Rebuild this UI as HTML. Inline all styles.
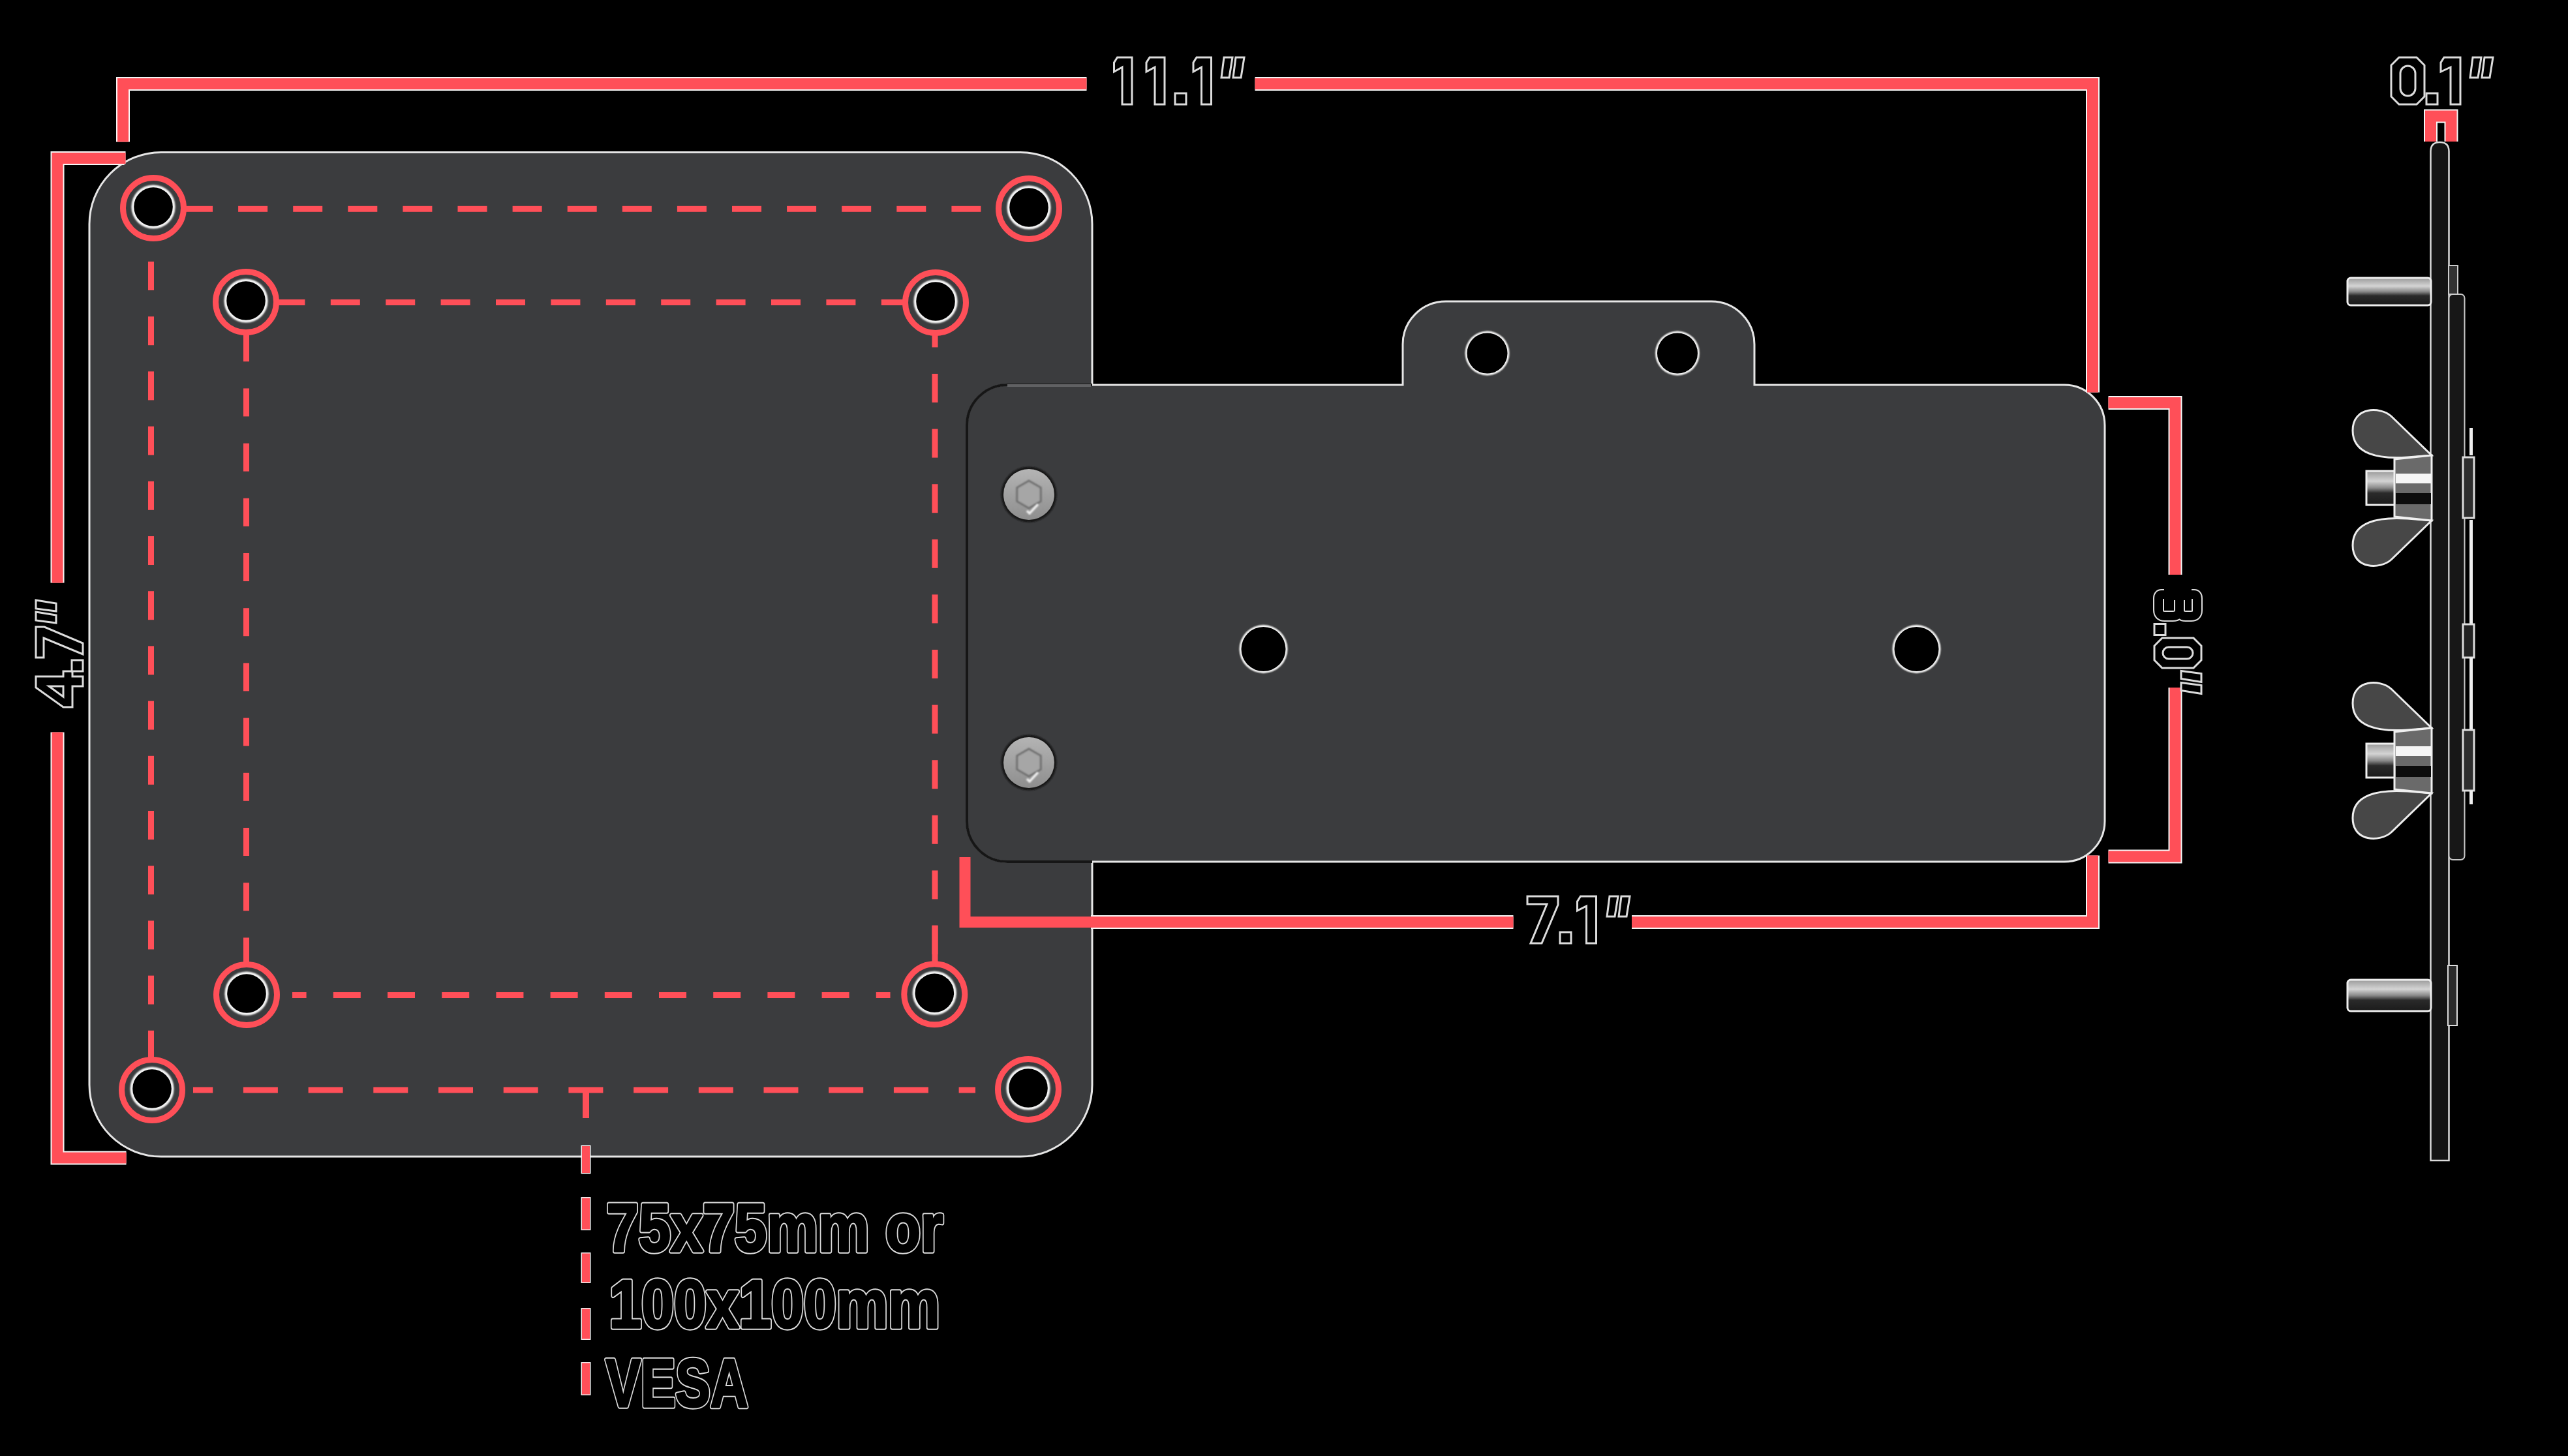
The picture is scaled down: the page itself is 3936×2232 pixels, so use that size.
<!DOCTYPE html>
<html><head><meta charset="utf-8"><style>
html,body{margin:0;padding:0;background:#000;overflow:hidden;}
svg{display:block;}
</style></head><body>
<svg width="3936" height="2232" viewBox="0 0 3936 2232">
<defs>
<clipPath id="plateclip"><rect x="137" y="233.5" width="1537" height="1539.5" rx="110" ry="110"/></clipPath>
<mask id="outside" maskUnits="userSpaceOnUse" x="0" y="0" width="3936" height="2232">
<rect width="3936" height="2232" fill="#fff"/>
<rect x="139" y="235.5" width="1533" height="1535.5" rx="110" ry="110" fill="#000"/>
</mask>
<radialGradient id="glow" cx="0.5" cy="0.5" r="0.5">
<stop offset="0.80" stop-color="#ffffff"/>
<stop offset="1" stop-color="#ffffff" stop-opacity="0"/>
</radialGradient>
<linearGradient id="screwg" x1="0" y1="0" x2="0" y2="1">
<stop offset="0" stop-color="#b4b4b4"/>
<stop offset="1" stop-color="#8e8e8e"/>
</linearGradient>
<filter id="blur1" x="-20%" y="-20%" width="140%" height="140%"><feGaussianBlur stdDeviation="1.2"/></filter>
<linearGradient id="boltg" x1="0" y1="0" x2="0" y2="1">
<stop offset="0" stop-color="#9a9a9a"/><stop offset="0.3" stop-color="#d4d4d4"/><stop offset="0.5" stop-color="#8a8a8a"/><stop offset="0.65" stop-color="#2a2a2a"/><stop offset="1" stop-color="#1a1a1a"/>
</linearGradient>
</defs>
<rect width="3936" height="2232" fill="#000"/>
<rect x="137" y="233.5" width="1537" height="1539.5" rx="110" ry="110" fill="#3b3c3e" stroke="#e6e6e6" stroke-width="3"/>
<rect x="235.0" y="315.8" width="6.9" height="9" fill="#ff4f58"/>
<rect x="281.0" y="315.8" width="45.0" height="9" fill="#ff4f58"/>
<rect x="365.1" y="315.8" width="45.0" height="9" fill="#ff4f58"/>
<rect x="449.2" y="315.8" width="45.0" height="9" fill="#ff4f58"/>
<rect x="533.3" y="315.8" width="45.0" height="9" fill="#ff4f58"/>
<rect x="617.4" y="315.8" width="45.0" height="9" fill="#ff4f58"/>
<rect x="701.5" y="315.8" width="45.0" height="9" fill="#ff4f58"/>
<rect x="785.6" y="315.8" width="45.0" height="9" fill="#ff4f58"/>
<rect x="869.7" y="315.8" width="45.0" height="9" fill="#ff4f58"/>
<rect x="953.8" y="315.8" width="45.0" height="9" fill="#ff4f58"/>
<rect x="1037.9" y="315.8" width="45.0" height="9" fill="#ff4f58"/>
<rect x="1122.0" y="315.8" width="45.0" height="9" fill="#ff4f58"/>
<rect x="1206.1" y="315.8" width="45.0" height="9" fill="#ff4f58"/>
<rect x="1290.2" y="315.8" width="45.0" height="9" fill="#ff4f58"/>
<rect x="1374.3" y="315.8" width="45.0" height="9" fill="#ff4f58"/>
<rect x="1458.4" y="315.8" width="45.0" height="9" fill="#ff4f58"/>
<rect x="1542.5" y="315.8" width="33.5" height="9" fill="#ff4f58"/>
<rect x="227.0" y="319.0" width="9" height="41.8" fill="#ff4f58"/>
<rect x="227.0" y="401.0" width="9" height="44.0" fill="#ff4f58"/>
<rect x="227.0" y="485.2" width="9" height="44.0" fill="#ff4f58"/>
<rect x="227.0" y="569.4" width="9" height="44.0" fill="#ff4f58"/>
<rect x="227.0" y="653.6" width="9" height="44.0" fill="#ff4f58"/>
<rect x="227.0" y="737.8" width="9" height="44.0" fill="#ff4f58"/>
<rect x="227.0" y="822.0" width="9" height="44.0" fill="#ff4f58"/>
<rect x="227.0" y="906.2" width="9" height="44.0" fill="#ff4f58"/>
<rect x="227.0" y="990.4" width="9" height="44.0" fill="#ff4f58"/>
<rect x="227.0" y="1074.6" width="9" height="44.0" fill="#ff4f58"/>
<rect x="227.0" y="1158.8" width="9" height="44.0" fill="#ff4f58"/>
<rect x="227.0" y="1243.0" width="9" height="44.0" fill="#ff4f58"/>
<rect x="227.0" y="1327.2" width="9" height="44.0" fill="#ff4f58"/>
<rect x="227.0" y="1411.4" width="9" height="44.0" fill="#ff4f58"/>
<rect x="227.0" y="1495.6" width="9" height="44.0" fill="#ff4f58"/>
<rect x="227.0" y="1579.8" width="9" height="44.0" fill="#ff4f58"/>
<rect x="227.0" y="1664.0" width="9" height="6.0" fill="#ff4f58"/>
<rect x="296.0" y="1666.5" width="30.2" height="9" fill="#ff4f58"/>
<rect x="372.9" y="1666.5" width="53.0" height="9" fill="#ff4f58"/>
<rect x="472.6" y="1666.5" width="53.0" height="9" fill="#ff4f58"/>
<rect x="572.3" y="1666.5" width="53.0" height="9" fill="#ff4f58"/>
<rect x="672.0" y="1666.5" width="53.0" height="9" fill="#ff4f58"/>
<rect x="771.7" y="1666.5" width="53.0" height="9" fill="#ff4f58"/>
<rect x="871.4" y="1666.5" width="53.0" height="9" fill="#ff4f58"/>
<rect x="971.1" y="1666.5" width="53.0" height="9" fill="#ff4f58"/>
<rect x="1070.8" y="1666.5" width="53.0" height="9" fill="#ff4f58"/>
<rect x="1170.5" y="1666.5" width="53.0" height="9" fill="#ff4f58"/>
<rect x="1270.2" y="1666.5" width="53.0" height="9" fill="#ff4f58"/>
<rect x="1369.9" y="1666.5" width="53.0" height="9" fill="#ff4f58"/>
<rect x="1469.6" y="1666.5" width="25.4" height="9" fill="#ff4f58"/>
<rect x="377.0" y="459.0" width="6.0" height="9" fill="#ff4f58"/>
<rect x="422.4" y="459.0" width="45.0" height="9" fill="#ff4f58"/>
<rect x="506.8" y="459.0" width="45.0" height="9" fill="#ff4f58"/>
<rect x="591.2" y="459.0" width="45.0" height="9" fill="#ff4f58"/>
<rect x="675.6" y="459.0" width="45.0" height="9" fill="#ff4f58"/>
<rect x="760.0" y="459.0" width="45.0" height="9" fill="#ff4f58"/>
<rect x="844.4" y="459.0" width="45.0" height="9" fill="#ff4f58"/>
<rect x="928.8" y="459.0" width="45.0" height="9" fill="#ff4f58"/>
<rect x="1013.2" y="459.0" width="45.0" height="9" fill="#ff4f58"/>
<rect x="1097.6" y="459.0" width="45.0" height="9" fill="#ff4f58"/>
<rect x="1182.0" y="459.0" width="45.0" height="9" fill="#ff4f58"/>
<rect x="1266.4" y="459.0" width="45.0" height="9" fill="#ff4f58"/>
<rect x="1350.8" y="459.0" width="45.0" height="9" fill="#ff4f58"/>
<rect x="373.0" y="462.0" width="9" height="8.0" fill="#ff4f58"/>
<rect x="373.0" y="511.2" width="9" height="43.0" fill="#ff4f58"/>
<rect x="373.0" y="595.4" width="9" height="43.0" fill="#ff4f58"/>
<rect x="373.0" y="679.6" width="9" height="43.0" fill="#ff4f58"/>
<rect x="373.0" y="763.8" width="9" height="43.0" fill="#ff4f58"/>
<rect x="373.0" y="848.0" width="9" height="43.0" fill="#ff4f58"/>
<rect x="373.0" y="932.2" width="9" height="43.0" fill="#ff4f58"/>
<rect x="373.0" y="1016.4" width="9" height="43.0" fill="#ff4f58"/>
<rect x="373.0" y="1100.6" width="9" height="43.0" fill="#ff4f58"/>
<rect x="373.0" y="1184.8" width="9" height="43.0" fill="#ff4f58"/>
<rect x="373.0" y="1269.0" width="9" height="43.0" fill="#ff4f58"/>
<rect x="373.0" y="1353.2" width="9" height="43.0" fill="#ff4f58"/>
<rect x="373.0" y="1437.4" width="9" height="43.0" fill="#ff4f58"/>
<rect x="373.0" y="1521.6" width="9" height="3.4" fill="#ff4f58"/>
<rect x="448.0" y="1521.0" width="21.6" height="9" fill="#ff4f58"/>
<rect x="510.8" y="1521.0" width="42.0" height="9" fill="#ff4f58"/>
<rect x="594.0" y="1521.0" width="42.0" height="9" fill="#ff4f58"/>
<rect x="677.2" y="1521.0" width="42.0" height="9" fill="#ff4f58"/>
<rect x="760.4" y="1521.0" width="42.0" height="9" fill="#ff4f58"/>
<rect x="843.6" y="1521.0" width="42.0" height="9" fill="#ff4f58"/>
<rect x="926.8" y="1521.0" width="42.0" height="9" fill="#ff4f58"/>
<rect x="1010.0" y="1521.0" width="42.0" height="9" fill="#ff4f58"/>
<rect x="1093.2" y="1521.0" width="42.0" height="9" fill="#ff4f58"/>
<rect x="1176.4" y="1521.0" width="42.0" height="9" fill="#ff4f58"/>
<rect x="1259.6" y="1521.0" width="42.0" height="9" fill="#ff4f58"/>
<rect x="1342.8" y="1521.0" width="21.7" height="9" fill="#ff4f58"/>
<rect x="1428.5" y="488.4" width="9" height="44.0" fill="#ff4f58"/>
<rect x="1428.5" y="573.0" width="9" height="44.0" fill="#ff4f58"/>
<rect x="1428.5" y="657.6" width="9" height="44.0" fill="#ff4f58"/>
<rect x="1428.5" y="742.2" width="9" height="44.0" fill="#ff4f58"/>
<rect x="1428.5" y="826.8" width="9" height="44.0" fill="#ff4f58"/>
<rect x="1428.5" y="911.4" width="9" height="44.0" fill="#ff4f58"/>
<rect x="1428.5" y="996.0" width="9" height="44.0" fill="#ff4f58"/>
<rect x="1428.5" y="1080.6" width="9" height="44.0" fill="#ff4f58"/>
<rect x="1428.5" y="1165.2" width="9" height="44.0" fill="#ff4f58"/>
<rect x="1428.5" y="1249.8" width="9" height="44.0" fill="#ff4f58"/>
<rect x="1428.5" y="1334.4" width="9" height="44.0" fill="#ff4f58"/>
<rect x="1428.5" y="1419.0" width="9" height="44.0" fill="#ff4f58"/>
<rect x="1428.5" y="1503.6" width="9" height="21.4" fill="#ff4f58"/>
<rect x="1428.5" y="1418.5" width="9" height="60" fill="#ff4f58"/>
<circle cx="235" cy="319" r="46.5" fill="#3b3c3e" stroke="#ff4f58" stroke-width="9"/>
<circle cx="235" cy="317" r="35" fill="#2a2b2c"/>
<circle cx="235" cy="317" r="33.8" fill="#f4f4f4" filter="url(#blur1)"/>
<circle cx="235" cy="317" r="29.8" fill="#000"/>
<circle cx="1577" cy="320" r="46.5" fill="#3b3c3e" stroke="#ff4f58" stroke-width="9"/>
<circle cx="1577" cy="318" r="35" fill="#2a2b2c"/>
<circle cx="1577" cy="318" r="33.8" fill="#f4f4f4" filter="url(#blur1)"/>
<circle cx="1577" cy="318" r="29.8" fill="#000"/>
<circle cx="233" cy="1671" r="46.5" fill="#3b3c3e" stroke="#ff4f58" stroke-width="9"/>
<circle cx="233" cy="1669" r="35" fill="#2a2b2c"/>
<circle cx="233" cy="1669" r="33.8" fill="#f4f4f4" filter="url(#blur1)"/>
<circle cx="233" cy="1669" r="29.8" fill="#000"/>
<circle cx="1576" cy="1670" r="46.5" fill="#3b3c3e" stroke="#ff4f58" stroke-width="9"/>
<circle cx="1576" cy="1668" r="35" fill="#2a2b2c"/>
<circle cx="1576" cy="1668" r="33.8" fill="#f4f4f4" filter="url(#blur1)"/>
<circle cx="1576" cy="1668" r="29.8" fill="#000"/>
<circle cx="377" cy="463" r="46.5" fill="#3b3c3e" stroke="#ff4f58" stroke-width="9"/>
<circle cx="377" cy="461" r="35" fill="#2a2b2c"/>
<circle cx="377" cy="461" r="33.8" fill="#f4f4f4" filter="url(#blur1)"/>
<circle cx="377" cy="461" r="29.8" fill="#000"/>
<circle cx="1434" cy="464" r="46.5" fill="#3b3c3e" stroke="#ff4f58" stroke-width="9"/>
<circle cx="1434" cy="462" r="35" fill="#2a2b2c"/>
<circle cx="1434" cy="462" r="33.8" fill="#f4f4f4" filter="url(#blur1)"/>
<circle cx="1434" cy="462" r="29.8" fill="#000"/>
<circle cx="378" cy="1525" r="46.5" fill="#3b3c3e" stroke="#ff4f58" stroke-width="9"/>
<circle cx="378" cy="1523" r="35" fill="#2a2b2c"/>
<circle cx="378" cy="1523" r="33.8" fill="#f4f4f4" filter="url(#blur1)"/>
<circle cx="378" cy="1523" r="29.8" fill="#000"/>
<circle cx="1432.3" cy="1524.2" r="46.5" fill="#3b3c3e" stroke="#ff4f58" stroke-width="9"/>
<circle cx="1432.3" cy="1522.2" r="35" fill="#2a2b2c"/>
<circle cx="1432.3" cy="1522.2" r="33.8" fill="#f4f4f4" filter="url(#blur1)"/>
<circle cx="1432.3" cy="1522.2" r="29.8" fill="#000"/>
<rect x="893" y="1671" width="10" height="43" fill="#ff4f58"/>
<rect x="890.5" y="1755.5" width="15" height="44" fill="#f0f0f0"/>
<rect x="892" y="1757" width="12" height="41" fill="#ff4f58"/>
<rect x="890.5" y="1835.0" width="15" height="51.0" fill="#f0f0f0"/>
<rect x="892" y="1836.5" width="12" height="48.0" fill="#ff4f58"/>
<rect x="890.5" y="1920.0" width="15" height="47.0" fill="#f0f0f0"/>
<rect x="892" y="1921.5" width="12" height="44.0" fill="#ff4f58"/>
<rect x="890.5" y="2005.0" width="15" height="49.0" fill="#f0f0f0"/>
<rect x="892" y="2006.5" width="12" height="46.0" fill="#ff4f58"/>
<rect x="890.5" y="2088.0" width="15" height="51.0" fill="#f0f0f0"/>
<rect x="892" y="2089.5" width="12" height="48.0" fill="#ff4f58"/>
<path d="M1544,590 L2150,590 L2150,528 A66,66 0 0 1 2216,462 L2623,462 A66,66 0 0 1 2689,528 L2689,590 L3164,590 A62,62 0 0 1 3226,652 L3226,1259 A62,62 0 0 1 3164,1321 L1544,1321 A62,62 0 0 1 1482,1259 L1482,652 A62,62 0 0 1 1544,590 Z" fill="#3b3c3e" stroke="#e6e6e6" stroke-width="3"/>
<path d="M1544,590 L2150,590 L2150,528 A66,66 0 0 1 2216,462 L2623,462 A66,66 0 0 1 2689,528 L2689,590 L3164,590 A62,62 0 0 1 3226,652 L3226,1259 A62,62 0 0 1 3164,1321 L1544,1321 A62,62 0 0 1 1482,1259 L1482,652 A62,62 0 0 1 1544,590 Z" fill="none" stroke="#161616" stroke-width="4" clip-path="url(#plateclip)"/>
<line x1="1544" y1="591" x2="1672" y2="591" stroke="#606163" stroke-width="4"/>
<circle cx="2279.5" cy="541.5" r="36" fill="#2c2d2e"/>
<circle cx="2279.5" cy="541.5" r="34.2" fill="#f4f4f4" filter="url(#blur1)"/>
<circle cx="2279.5" cy="541.5" r="31" fill="#000"/>
<circle cx="2571" cy="541.5" r="36" fill="#2c2d2e"/>
<circle cx="2571" cy="541.5" r="34.2" fill="#f4f4f4" filter="url(#blur1)"/>
<circle cx="2571" cy="541.5" r="31" fill="#000"/>
<circle cx="1936.5" cy="995" r="39" fill="#2c2d2e"/>
<circle cx="1936.5" cy="995" r="37.2" fill="#f4f4f4" filter="url(#blur1)"/>
<circle cx="1936.5" cy="995" r="34" fill="#000"/>
<circle cx="2937.5" cy="995" r="39" fill="#2c2d2e"/>
<circle cx="2937.5" cy="995" r="37.2" fill="#f4f4f4" filter="url(#blur1)"/>
<circle cx="2937.5" cy="995" r="34" fill="#000"/>
<circle cx="1577" cy="758" r="42.5" fill="#161616" filter="url(#blur1)"/>
<circle cx="1577" cy="758" r="39" fill="url(#screwg)"/>
<polygon points="1577.0,779.0 1558.8,768.5 1558.8,747.5 1577.0,737.0 1595.2,747.5 1595.2,768.5" fill="#a6a6a6" stroke="#6e6e6e" stroke-width="3" filter="url(#blur1)"/>
<path d="M1574,783 L1578,787 L1591,773" fill="none" stroke="#efefef" stroke-width="3.5" filter="url(#blur1)"/>
<circle cx="1577" cy="1169" r="42.5" fill="#161616" filter="url(#blur1)"/>
<circle cx="1577" cy="1169" r="39" fill="url(#screwg)"/>
<polygon points="1577.0,1190.0 1558.8,1179.5 1558.8,1158.5 1577.0,1148.0 1595.2,1158.5 1595.2,1179.5" fill="#a6a6a6" stroke="#6e6e6e" stroke-width="3" filter="url(#blur1)"/>
<path d="M1574,1194 L1578,1198 L1591,1184" fill="none" stroke="#efefef" stroke-width="3.5" filter="url(#blur1)"/>
<path d="M188.5,217.5 L188.5,128.5 L1665.5,128.5" fill="none" stroke="#f6f6f6" stroke-width="21" stroke-linejoin="miter" mask="url(#outside)"/>
<path d="M188.5,217.5 L188.5,128.5 L1665.5,128.5" fill="none" stroke="#ff4f58" stroke-width="17" stroke-linejoin="miter"/>
<path d="M1923.5,128.5 L3207.5,128.5 L3207.5,601.5" fill="none" stroke="#f6f6f6" stroke-width="21" stroke-linejoin="miter" mask="url(#outside)"/>
<path d="M1923.5,128.5 L3207.5,128.5 L3207.5,601.5" fill="none" stroke="#ff4f58" stroke-width="17" stroke-linejoin="miter"/>
<path d="M192.5,242.5 L88,242.5 L88,893.5" fill="none" stroke="#f6f6f6" stroke-width="21" stroke-linejoin="miter" mask="url(#outside)"/>
<path d="M192.5,242.5 L88,242.5 L88,893.5" fill="none" stroke="#ff4f58" stroke-width="17" stroke-linejoin="miter"/>
<path d="M88,1122.5 L88,1775 L193.5,1775" fill="none" stroke="#f6f6f6" stroke-width="21" stroke-linejoin="miter" mask="url(#outside)"/>
<path d="M88,1122.5 L88,1775 L193.5,1775" fill="none" stroke="#ff4f58" stroke-width="17" stroke-linejoin="miter"/>
<path d="M3231.5,617.5 L3334,617.5 L3334,881" fill="none" stroke="#f6f6f6" stroke-width="21" stroke-linejoin="miter" mask="url(#outside)"/>
<path d="M3231.5,617.5 L3334,617.5 L3334,881" fill="none" stroke="#ff4f58" stroke-width="17" stroke-linejoin="miter"/>
<path d="M3334,1054 L3334,1313 L3231.5,1313" fill="none" stroke="#f6f6f6" stroke-width="21" stroke-linejoin="miter" mask="url(#outside)"/>
<path d="M3334,1054 L3334,1313 L3231.5,1313" fill="none" stroke="#ff4f58" stroke-width="17" stroke-linejoin="miter"/>
<path d="M1479,1314 L1479,1413.5 L2319.5,1413.5" fill="none" stroke="#f6f6f6" stroke-width="21" stroke-linejoin="miter" mask="url(#outside)"/>
<path d="M1479,1314 L1479,1413.5 L2319.5,1413.5" fill="none" stroke="#ff4f58" stroke-width="17" stroke-linejoin="miter"/>
<path d="M2501,1413.5 L3207.5,1413.5 L3207.5,1311.5" fill="none" stroke="#f6f6f6" stroke-width="21" stroke-linejoin="miter" mask="url(#outside)"/>
<path d="M2501,1413.5 L3207.5,1413.5 L3207.5,1311.5" fill="none" stroke="#ff4f58" stroke-width="17" stroke-linejoin="miter"/>
<path d="M3725.5,217 L3725.5,178 L3757,178 L3757,217" fill="none" stroke="#f6f6f6" stroke-width="21" stroke-linejoin="miter" mask="url(#outside)"/>
<path d="M3725.5,217 L3725.5,178 L3757,178 L3757,217" fill="none" stroke="#ff4f58" stroke-width="17" stroke-linejoin="miter"/>
<g transform="translate(0,160)">
<path transform="translate(1707.5,0)" d="M5,-72 L27.5,-72 L27.5,0 L12.5,0 L12.5,-57 L0,-50 L0,-64 Z" fill="#000" fill-rule="evenodd" stroke="#dcdcdc" stroke-width="3" stroke-linejoin="miter"/>
<path transform="translate(1757,0)" d="M5,-72 L28,-72 L28,0 L13,0 L13,-57 L0,-50 L0,-64 Z" fill="#000" fill-rule="evenodd" stroke="#dcdcdc" stroke-width="3" stroke-linejoin="miter"/>
<path transform="translate(1801,0)" d="M0,-17 L17,-17 L17,0 L0,0 Z" fill="#000" fill-rule="evenodd" stroke="#dcdcdc" stroke-width="3" stroke-linejoin="miter"/>
<path transform="translate(1829,0)" d="M5,-72 L27.5,-72 L27.5,0 L12.5,0 L12.5,-57 L0,-50 L0,-64 Z" fill="#000" fill-rule="evenodd" stroke="#dcdcdc" stroke-width="3" stroke-linejoin="miter"/>
<path transform="translate(1872,0)" d="M4,-72 L17,-72 L12,-41 L0,-41 Z M22,-72 L35,-72 L30,-41 L18,-41 Z" fill="#000" fill-rule="evenodd" stroke="#dcdcdc" stroke-width="3" stroke-linejoin="miter"/>
</g>
<g transform="translate(0,1446)">
<path transform="translate(2341,0)" d="M0,-72 L47,-72 L47,-59 L22,0 L5,0 L30,-60 L0,-60 Z" fill="#000" fill-rule="evenodd" stroke="#dcdcdc" stroke-width="3" stroke-linejoin="miter"/>
<path transform="translate(2391,0)" d="M0,-17 L17,-17 L17,0 L0,0 Z" fill="#000" fill-rule="evenodd" stroke="#dcdcdc" stroke-width="3" stroke-linejoin="miter"/>
<path transform="translate(2417.5,0)" d="M5,-72 L29,-72 L29,0 L14,0 L14,-57 L0,-50 L0,-64 Z" fill="#000" fill-rule="evenodd" stroke="#dcdcdc" stroke-width="3" stroke-linejoin="miter"/>
<path transform="translate(2463,0)" d="M4,-72 L17,-72 L12,-41 L0,-41 Z M22,-72 L35,-72 L30,-41 L18,-41 Z" fill="#000" fill-rule="evenodd" stroke="#dcdcdc" stroke-width="3" stroke-linejoin="miter"/>
</g>
<g transform="translate(0,160)">
<path transform="translate(3665,0)" d="M12,-72 L39,-72 L51,-60 L51,-12 L39,0 L12,0 L0,-12 L0,-60 Z M14,-47.5 A11.5,11.5 0 0 1 37,-47.5 L37,-24.5 A11.5,11.5 0 0 1 14,-24.5 Z" fill="#000" fill-rule="evenodd" stroke="#dcdcdc" stroke-width="3" stroke-linejoin="miter"/>
<path transform="translate(3719,0)" d="M0,-17 L17,-17 L17,0 L0,0 Z" fill="#000" fill-rule="evenodd" stroke="#dcdcdc" stroke-width="3" stroke-linejoin="miter"/>
<path transform="translate(3741,0)" d="M5,-72 L30,-72 L30,0 L15,0 L15,-57 L0,-50 L0,-64 Z" fill="#000" fill-rule="evenodd" stroke="#dcdcdc" stroke-width="3" stroke-linejoin="miter"/>
<path transform="translate(3786,0)" d="M4,-72 L17,-72 L12,-41 L0,-41 Z M22,-72 L35,-72 L30,-41 L18,-41 Z" fill="#000" fill-rule="evenodd" stroke="#dcdcdc" stroke-width="3" stroke-linejoin="miter"/>
</g>
<g transform="translate(127,1084) rotate(-90)">
<path transform="translate(0,0)" d="M30,-72 L47,-72 L47,-30 L55,-30 L55,-16 L47,-16 L47,0 L32,0 L32,-16 L0,-16 L0,-30 Z M32,-52 L32,-30 L16,-30 Z" fill="#000" fill-rule="evenodd" stroke="#dcdcdc" stroke-width="3" stroke-linejoin="miter"/>
<path transform="translate(55,0)" d="M0,-17 L17,-17 L17,0 L0,0 Z" fill="#000" fill-rule="evenodd" stroke="#dcdcdc" stroke-width="3" stroke-linejoin="miter"/>
<path transform="translate(76,0)" d="M0,-72 L47,-72 L47,-59 L22,0 L5,0 L30,-60 L0,-60 Z" fill="#000" fill-rule="evenodd" stroke="#dcdcdc" stroke-width="3" stroke-linejoin="miter"/>
<path transform="translate(129,0)" d="M4,-72 L17,-72 L12,-41 L0,-41 Z M22,-72 L35,-72 L30,-41 L18,-41 Z" fill="#000" fill-rule="evenodd" stroke="#dcdcdc" stroke-width="3" stroke-linejoin="miter"/>
</g>
<g transform="translate(3302,905) rotate(90) translate(0,0)"><path d="M6.5,-57 L6.5,-61 Q6.5,-65.5 12,-65.5 L31,-65.5 Q39.5,-65.5 39.5,-56 L39.5,-48 Q39.5,-38.5 30,-38.5 L15,-38.5 M30,-38.5 Q39.5,-38.5 39.5,-28 L39.5,-16 Q39.5,-6.5 30,-6.5 L12,-6.5 Q6.5,-6.5 6.5,-11 L6.5,-15" fill="none" stroke="#dcdcdc" stroke-width="17" stroke-linecap="butt"/><path d="M6.5,-57 L6.5,-61 Q6.5,-65.5 12,-65.5 L31,-65.5 Q39.5,-65.5 39.5,-56 L39.5,-48 Q39.5,-38.5 30,-38.5 L15,-38.5 M30,-38.5 Q39.5,-38.5 39.5,-28 L39.5,-16 Q39.5,-6.5 30,-6.5 L12,-6.5 Q6.5,-6.5 6.5,-11 L6.5,-15" fill="none" stroke="#000" stroke-width="13"/></g>
<g transform="translate(3302,905) rotate(90)">
<path transform="translate(51.5,0)" d="M0,-17 L17,-17 L17,0 L0,0 Z" fill="#000" fill-rule="evenodd" stroke="#dcdcdc" stroke-width="3" stroke-linejoin="miter"/>
<path transform="translate(73,0)" d="M12,-72 L34,-72 L46,-60 L46,-12 L34,0 L12,0 L0,-12 L0,-60 Z M14,-50.0 A9.0,9.0 0 0 1 32,-50.0 L32,-22.0 A9.0,9.0 0 0 1 14,-22.0 Z" fill="#000" fill-rule="evenodd" stroke="#dcdcdc" stroke-width="3" stroke-linejoin="miter"/>
<path transform="translate(123.5,0)" d="M4,-72 L17,-72 L12,-41 L0,-41 Z M22,-72 L35,-72 L30,-41 L18,-41 Z" fill="#000" fill-rule="evenodd" stroke="#dcdcdc" stroke-width="3" stroke-linejoin="miter"/>
</g>
<text transform="translate(929.5,1918) scale(0.85,1)" font-family="Liberation Sans" font-weight="bold" font-size="104" fill="#000" stroke="#dcdcdc" stroke-width="7.5" stroke-linejoin="round">75x75mm or</text>
<text transform="translate(929.5,1918) scale(0.85,1)" font-family="Liberation Sans" font-weight="bold" font-size="104" fill="#000" stroke="#000" stroke-width="3.5" stroke-linejoin="round">75x75mm or</text>
<text transform="translate(933.5,2035) scale(0.86,1)" font-family="Liberation Sans" font-weight="bold" font-size="104" fill="#000" stroke="#dcdcdc" stroke-width="7.5" stroke-linejoin="round">100x100mm</text>
<text transform="translate(933.5,2035) scale(0.86,1)" font-family="Liberation Sans" font-weight="bold" font-size="104" fill="#000" stroke="#000" stroke-width="3.5" stroke-linejoin="round">100x100mm</text>
<text transform="translate(928.5,2156) scale(0.77,1)" font-family="Liberation Sans" font-weight="bold" font-size="104" fill="#000" stroke="#dcdcdc" stroke-width="7.5" stroke-linejoin="round">VESA</text>
<text transform="translate(928.5,2156) scale(0.77,1)" font-family="Liberation Sans" font-weight="bold" font-size="104" fill="#000" stroke="#000" stroke-width="3.5" stroke-linejoin="round">VESA</text>
<path d="M3725.5,1779 L3725.5,232 Q3725.5,218 3739.5,218 Q3753.5,218 3753.5,232 L3753.5,1779 Z" fill="#141414" stroke="#dcdcdc" stroke-width="2.5"/>
<rect x="3753.5" y="451" width="24" height="867" rx="6" fill="#171717" stroke="#c8c8c8" stroke-width="2"/>
<rect x="3598" y="426" width="128" height="42" rx="5" fill="url(#boltg)" stroke="#eeeeee" stroke-width="3"/>
<rect x="3598" y="1502" width="128" height="48" rx="5" fill="url(#boltg)" stroke="#eeeeee" stroke-width="3"/>
<rect x="3753" y="407" width="14" height="44" fill="#333" stroke="#ccc" stroke-width="2"/>
<rect x="3752" y="1480" width="14" height="92" fill="#2a2a2a" stroke="#ddd" stroke-width="2"/>
<path d="M3727,698 L3665,638 C3648,623 3606,623 3606,660 C3606,696 3645,704 3690,701 Z" fill="#474747" stroke="#eeeeee" stroke-width="3"/>
<path d="M3727,798 L3665,858 C3648,873 3606,873 3606,836 C3606,800 3645,792 3690,795 Z" fill="#474747" stroke="#eeeeee" stroke-width="3"/>
<rect x="3627" y="722" width="50" height="52" fill="url(#boltg)" stroke="#f0f0f0" stroke-width="3"/>
<path d="M3670,704 L3727,698 L3727,798 L3670,792 Z" fill="#6a6a6a" stroke="#f0f0f0" stroke-width="3"/>
<rect x="3672" y="726" width="54" height="15" fill="#f6f6f6"/>
<rect x="3672" y="756" width="54" height="17" fill="#0c0c0c"/>
<rect x="3775" y="701" width="17" height="93" fill="#2e2e2e" stroke="#dddddd" stroke-width="3"/>
<path d="M3727,1116 L3665,1056 C3648,1041 3606,1041 3606,1078 C3606,1114 3645,1122 3690,1119 Z" fill="#474747" stroke="#eeeeee" stroke-width="3"/>
<path d="M3727,1216 L3665,1276 C3648,1291 3606,1291 3606,1254 C3606,1218 3645,1210 3690,1213 Z" fill="#474747" stroke="#eeeeee" stroke-width="3"/>
<rect x="3627" y="1140" width="50" height="52" fill="url(#boltg)" stroke="#f0f0f0" stroke-width="3"/>
<path d="M3670,1122 L3727,1116 L3727,1216 L3670,1210 Z" fill="#6a6a6a" stroke="#f0f0f0" stroke-width="3"/>
<rect x="3672" y="1144" width="54" height="15" fill="#f6f6f6"/>
<rect x="3672" y="1174" width="54" height="17" fill="#0c0c0c"/>
<rect x="3775" y="1119" width="17" height="93" fill="#2e2e2e" stroke="#dddddd" stroke-width="3"/>
<rect x="3785" y="656" width="5" height="42" fill="#eee"/>
<rect x="3785" y="797" width="5" height="160" fill="#eee"/>
<rect x="3775" y="957" width="17" height="51" fill="#222" stroke="#dddddd" stroke-width="3"/>
<rect x="3785" y="1008" width="5" height="110" fill="#eee"/>
<rect x="3785" y="1212" width="5" height="21" fill="#eee"/>
</svg>
</body></html>
